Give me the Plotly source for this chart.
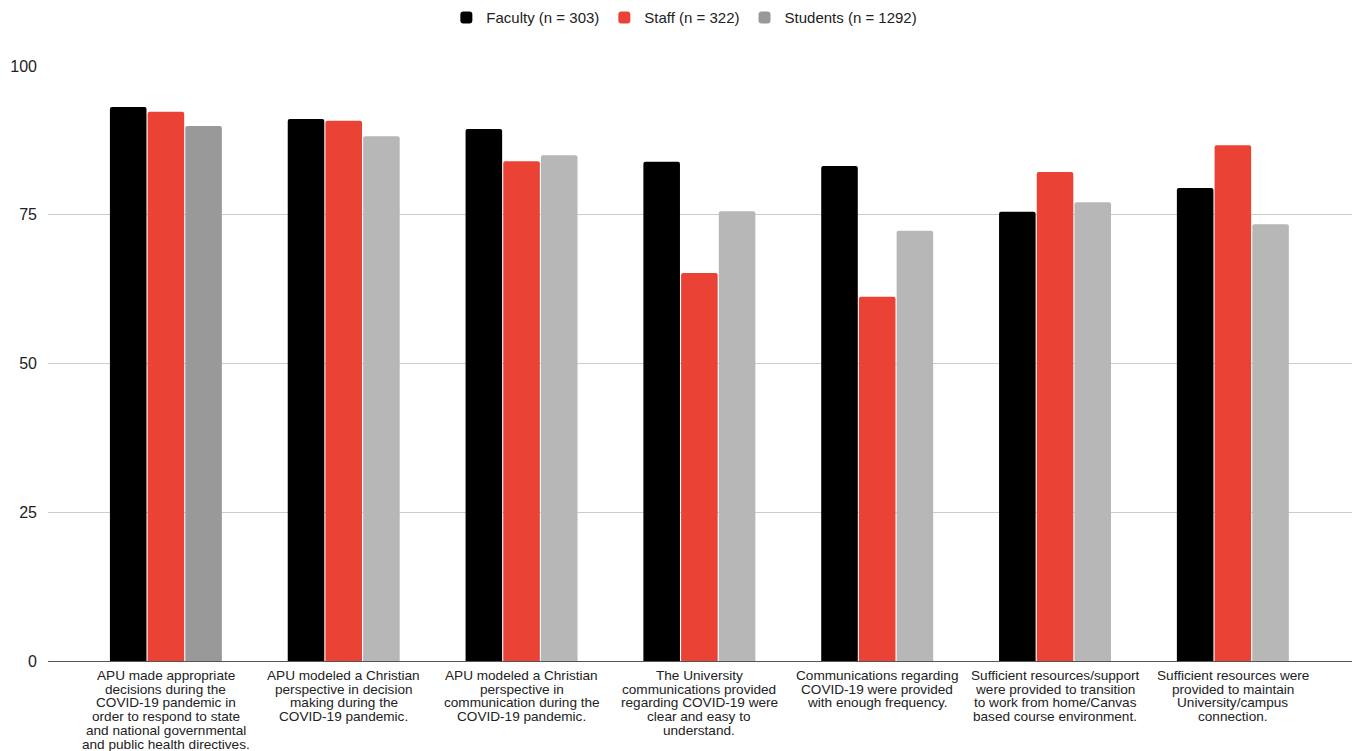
import plotly.graph_objects as go

categories = [
    "APU made appropriate decisions",
    "Christian perspective in decision making",
    "Christian perspective in communication",
    "Communications clear and easy",
    "Communications frequency",
    "Resources for transition",
    "Resources for connection",
]
label_lines = [
    ["APU made appropriate", "decisions during the", "COVID-19 pandemic in", "order to respond to state",
     "and national governmental", "and public health directives."],
    ["APU modeled a Christian", "perspective in decision", "making during the", "COVID-19 pandemic."],
    ["APU modeled a Christian", "perspective in", "communication during the", "COVID-19 pandemic."],
    ["The University", "communications provided", "regarding COVID-19 were", "clear and easy to", "understand."],
    ["Communications regarding", "COVID-19 were provided", "with enough frequency."],
    ["Sufficient resources/support", "were provided to transition", "to work from home/Canvas",
     "based course environment."],
    ["Sufficient resources were", "provided to maintain", "University/campus", "connection."],
]
series_names = ["Faculty (n = 303)", "Staff (n = 322)", "Students (n = 1292)"]
faculty = [93.1, 91.1, 89.4, 83.9, 83.2, 75.5, 79.5]
staff = [92.3, 90.8, 84.0, 65.2, 61.2, 82.2, 86.7]
students = [89.9, 88.2, 85.0, 75.6, 72.3, 77.1, 73.4]
y_ticks = [0, 25, 50, 75, 100]

FONT = "Liberation Sans, Arial, sans-serif"
idx = list(range(len(categories)))

student_colors = ["#999999"] + ["#b7b7b7"] * (len(categories) - 1)

fig = go.Figure()
fig.add_trace(go.Bar(name=series_names[0], x=idx, y=faculty, marker=dict(color="#000000", line=dict(width=0))))
fig.add_trace(go.Bar(name=series_names[1], x=idx, y=staff, marker=dict(color="#ea4335", line=dict(width=0))))
fig.add_trace(go.Bar(name=series_names[2], x=idx, y=students, marker=dict(color=student_colors, line=dict(width=0))))

annotations = []
for i, lines in enumerate(label_lines):
    for j, line in enumerate(lines):
        annotations.append(dict(
            x=i, y=0, xref="x", yref="y", text=line, showarrow=False,
            xanchor="center", yanchor="middle", yshift=-14.5 - 13.7 * j,
            font=dict(family=FONT, size=13.6, color="#222222"),
        ))

fig.update_layout(
    width=1355, height=751,
    margin=dict(l=48, r=3, t=66, b=90, autoexpand=False),
    paper_bgcolor="white", plot_bgcolor="white",
    barmode="group", bargap=0.364, bargroupgap=0.03, barcornerradius=2,
    showlegend=True,
    legend=dict(orientation="h", x=0.488, xanchor="center", y=1.081, yanchor="middle",
                font=dict(family=FONT, size=15, color="#222222"), itemsizing="constant",
                traceorder="normal"),
    font=dict(family=FONT, color="#222222"),
    xaxis=dict(range=[-0.663, 6.67], showticklabels=False, showgrid=False, zeroline=False,
               showline=True, linecolor="#555555", linewidth=1, ticks=""),
    yaxis=dict(range=[0, 100], tickvals=y_ticks, showgrid=True, gridcolor="#cccccc", gridwidth=1,
               zeroline=False, ticks="", ticklabelstandoff=10,
               tickfont=dict(family=FONT, size=16, color="#222222")),
    annotations=annotations,
)

fig.write_html("out.html")
